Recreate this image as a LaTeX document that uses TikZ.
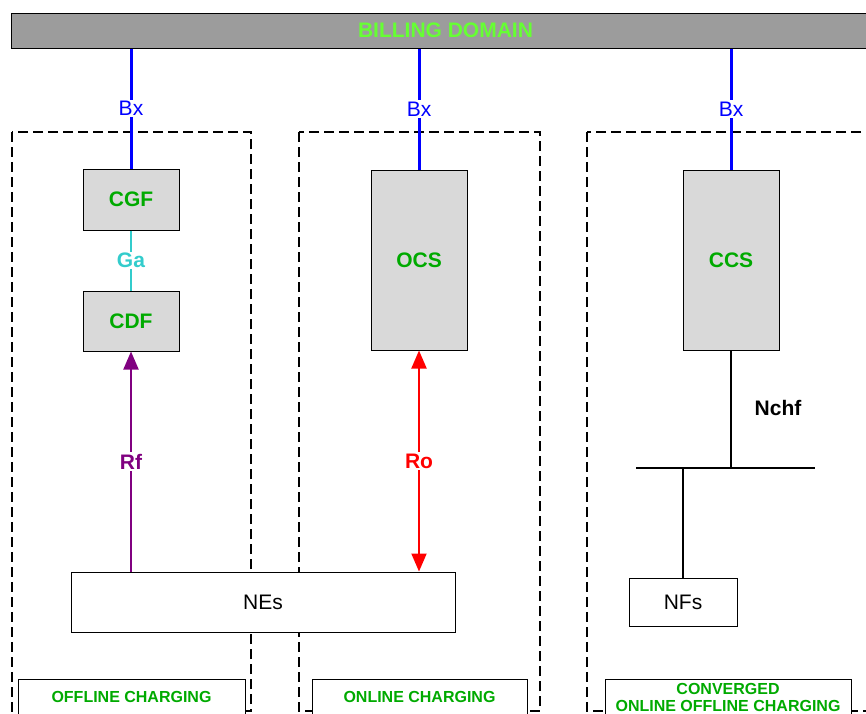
\documentclass[tikz,border=0pt]{standalone}
\usepackage{fontspec}
\setmainfont{Liberation Sans}
\usetikzlibrary{arrows.meta, positioning}
\definecolor{billgreen}{HTML}{66FF33}
\definecolor{fngreen}{HTML}{00AA00}
\definecolor{gacyan}{HTML}{33CCCC}
\definecolor{rfpurple}{HTML}{800080}
\definecolor{boxgray}{HTML}{D9D9D9}
\definecolor{bargray}{HTML}{9C9C9C}

\begin{document}
\begin{tikzpicture}[x=1pt, y=-1pt,
    fnbox/.style={draw, line width=1pt, fill=boxgray, text=fngreen, inner sep=0pt,
      minimum width=96pt, font=\fontsize{21}{24}\selectfont\bfseries},
    plainbox/.style={draw, line width=1pt, fill=white, inner sep=0pt,
      font=\fontsize{21}{24}\selectfont},
    domainbox/.style={draw, line width=1.5pt, dash pattern=on 10pt off 5pt},
    titlebox/.style={draw, line width=1pt, fill=white, text=fngreen, inner sep=0pt,
      align=center, font=\fontsize{16}{17}\selectfont\bfseries},
    iflabel/.style={fill=white, inner sep=1.5pt, font=\fontsize{21}{24}\selectfont\bfseries},
    tip/.style={-{Triangle[width=15pt, length=18pt]}},
    tips/.style={{Triangle[width=15pt, length=18pt]}-{Triangle[width=15pt, length=18pt]}}]
  \useasboundingbox (0,0) rectangle (866,713);

  % charging domains
  \draw[domainbox] (12,132) rectangle (251,711);
  \draw[domainbox] (299,132) rectangle (540,711);
  \draw[domainbox] (587,132) rectangle (880,711);

  % billing domain
  \node[draw, line width=1pt, fill=bargray, minimum width=869pt, minimum height=35pt,
    text=billgreen, font=\fontsize{21}{24}\selectfont\bfseries] (billing) at (445.5,30.5) {BILLING DOMAIN};

  % charging functions
  \node[fnbox, minimum height=61pt] (cgf) at (131,199.5) {CGF};
  \node[fnbox, minimum height=60pt] (cdf) at (131,321) {CDF};
  \node[fnbox, minimum height=180pt] (ocs) at (419,260) {OCS};
  \node[fnbox, minimum height=180pt] (ccs) at (731,260) {CCS};
  \node[plainbox, minimum width=384pt, minimum height=60pt] (nes) at (263,602) {NEs};
  \node[plainbox, minimum width=108pt, minimum height=48pt] (nfs) at (683,602) {NFs};

  % Bx
  \foreach \fn in {cgf, ocs, ccs}
    \draw[blue, line width=3pt] (billing.south -| \fn.north) -- node[iflabel, text=blue, font=\fontsize{21}{24}\selectfont] {Bx} (\fn.north);

  % Ga, Rf, Ro
  \draw[gacyan, line width=2pt] (cgf.south) -- node[iflabel, text=gacyan] {Ga} (cdf.north);
  \draw[rfpurple, line width=2pt, tip] (nes.north -| cdf.south) -- node[iflabel, text=rfpurple] {Rf} (cdf.south);
  \draw[red, line width=2pt, tips] (ocs.south) -- node[iflabel, text=red] {Ro} (nes.north -| ocs.south);

  % Nchf
  \coordinate (busl) at (636,468);
  \coordinate (busr) at (815,468);
  \draw[line width=2.5pt] (busl) -- (busr);
  \draw[line width=2pt] (ccs.south) -- (ccs.south |- busl);
  \draw[line width=2pt] (nfs.north) -- (nfs.north |- busl);
  \node[font=\fontsize{21}{24}\selectfont\bfseries] (nchf) at (778,408) {Nchf};

  % domain titles
  \node[titlebox, minimum width=227pt, minimum height=36pt] (offline) at (131.5,697) {OFFLINE CHARGING};
  \node[titlebox, minimum width=215pt, minimum height=36pt] (online) at (419.5,697) {ONLINE CHARGING};
  \node[titlebox, minimum width=246pt, minimum height=36pt] (converged) at (728,697) {CONVERGED\\ONLINE OFFLINE CHARGING};
\end{tikzpicture}
\end{document}
